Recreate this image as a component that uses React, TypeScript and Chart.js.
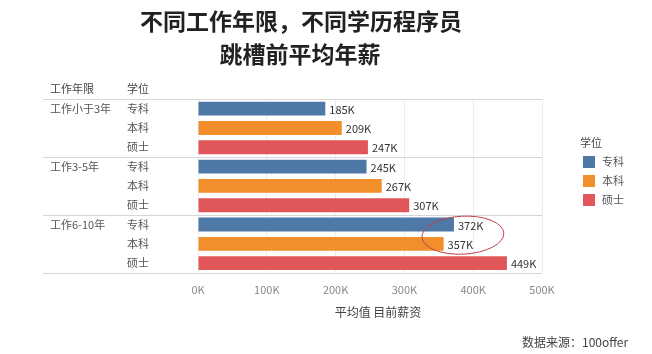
import React, { useEffect, useRef } from "react";
import { Chart, registerables } from "chart.js";

Chart.register(...registerables);

const titleLines = ["不同工作年限，不同学历程序员", "跳槽前平均年薪"];
const groups = ["工作小于3年", "工作3-5年", "工作6-10年"];
const degrees = ["专科", "本科", "硕士"];
const values = [185, 209, 247, 245, 267, 307, 372, 357, 449];
const colors = ["#4e79a7", "#f28e2b", "#e15759"];
const xTicks = [0, 100, 200, 300, 400, 500];
const axisTitle = "平均值 目前薪资";
const headerLeft = "工作年限";
const headerRight = "学位";
const legendTitle = "学位";
const source = "数据来源：100offer";

const FONT = '"Noto Sans CJK SC", "Noto Sans", sans-serif';

const labels = groups.flatMap((g) => degrees.map((d) => g + " " + d));

const decorPlugin = {
  id: "decor",
  afterDraw(chart: any) {
    const ctx = chart.ctx;
    const area = chart.chartArea;
    const y = chart.scales.y;
    const x = chart.scales.x;
    ctx.save();
    // title
    ctx.fillStyle = "#222";
    ctx.font = "bold 23px " + FONT;
    ctx.textAlign = "center";
    ctx.textBaseline = "middle";
    ctx.fillText(titleLines[0], 301, 21);
    ctx.fillText(titleLines[1], 300, 54);

    // headers
    ctx.font = "11px " + FONT;
    ctx.fillStyle = "#444";
    ctx.textAlign = "left";
    ctx.fillText(headerLeft, 50, area.top - 10);
    ctx.fillText(headerRight, 127, area.top - 10);

    // separators
    const rowH = (area.bottom - area.top) / labels.length;
    ctx.strokeStyle = "#d6d6d6";
    ctx.lineWidth = 1;
    for (let g = 0; g <= groups.length; g++) {
      const yy = Math.round(area.top + g * 3 * rowH) + 0.5;
      ctx.beginPath();
      ctx.moveTo(43, yy);
      ctx.lineTo(area.right, yy);
      ctx.stroke();
    }

    // left labels
    ctx.fillStyle = "#555";
    for (let i = 0; i < labels.length; i++) {
      const yy = y.getPixelForValue(i);
      if (i % 3 === 0) ctx.fillText(groups[i / 3], 50, yy);
      ctx.fillText(degrees[i % 3], 127, yy);
    }

    // value labels
    ctx.fillStyle = "#333";
    const meta = chart.getDatasetMeta(0);
    meta.data.forEach((bar: any, i: number) => {
      ctx.fillText(values[i] + "K", bar.x + 4, bar.y + 1);
    });

    // axis title
    ctx.fillStyle = "#444";
    ctx.font = "12px " + FONT;
    ctx.textAlign = "center";
    ctx.fillText(axisTitle, 378, 312);

    // legend
    ctx.textAlign = "left";
    ctx.font = "11px " + FONT;
    ctx.fillStyle = "#444";
    ctx.fillText(legendTitle, 580, 143);
    degrees.forEach((d, i) => {
      const cy = 162 + i * 19;
      ctx.fillStyle = colors[i];
      ctx.fillRect(583, cy - 6, 12, 12);
      ctx.fillStyle = "#555";
      ctx.fillText(d, 602, cy);
    });

    // source
    ctx.font = "12px " + FONT;
    ctx.fillStyle = "#444";
    ctx.fillText(source, 522, 342);

    // ellipse annotation around 6-10 year 专科/本科
    const cx = x.getPixelForValue(385);
    const cy = (y.getPixelForValue(6) + y.getPixelForValue(7)) / 2 + 1;
    ctx.strokeStyle = "#c0404a";
    ctx.lineWidth = 1;
    ctx.beginPath();
    ctx.ellipse(cx, cy, 41, 19, -0.05, 0, Math.PI * 2);
    ctx.stroke();
    ctx.restore();
  },
};

export default function App() {
  const ref = useRef<HTMLCanvasElement>(null);
  useEffect(() => {
    if (!ref.current) return;
    const chart = new Chart(ref.current, {
      type: "bar",
      data: {
        labels,
        datasets: [
          {
            data: values,
            backgroundColor: values.map((_, i) => colors[i % 3]),
            barPercentage: 0.9,
            categoryPercentage: 0.8,
          },
        ],
      },
      options: {
        indexAxis: "y",
        animation: false,
        responsive: false,
        maintainAspectRatio: false,
        layout: { padding: { left: 198, right: 110, top: 99, bottom: 48 } },
        plugins: { legend: { display: false }, tooltip: { enabled: false }, title: { display: false } },
        scales: {
          y: { display: false },
          x: {
            min: 0,
            max: 500,
            afterBuildTicks: (axis: any) => {
              axis.ticks = xTicks.map((v) => ({ value: v }));
            },
            ticks: {
              callback: (v: any) => v + "K",
              color: "#888",
              font: { size: 11, family: FONT },
              padding: 10,
            },
            grid: { color: "#ececec", drawTicks: false },
            border: { display: false },
          },
        },
      },
      plugins: [decorPlugin],
    });
    return () => chart.destroy();
  }, []);
  return (
    <div style={{ position: "fixed", left: 0, top: 0, width: 652, height: 354, background: "#fff" }}>
      <canvas ref={ref} width={652} height={354} style={{ width: 652, height: 354 }} />
    </div>
  );
}
